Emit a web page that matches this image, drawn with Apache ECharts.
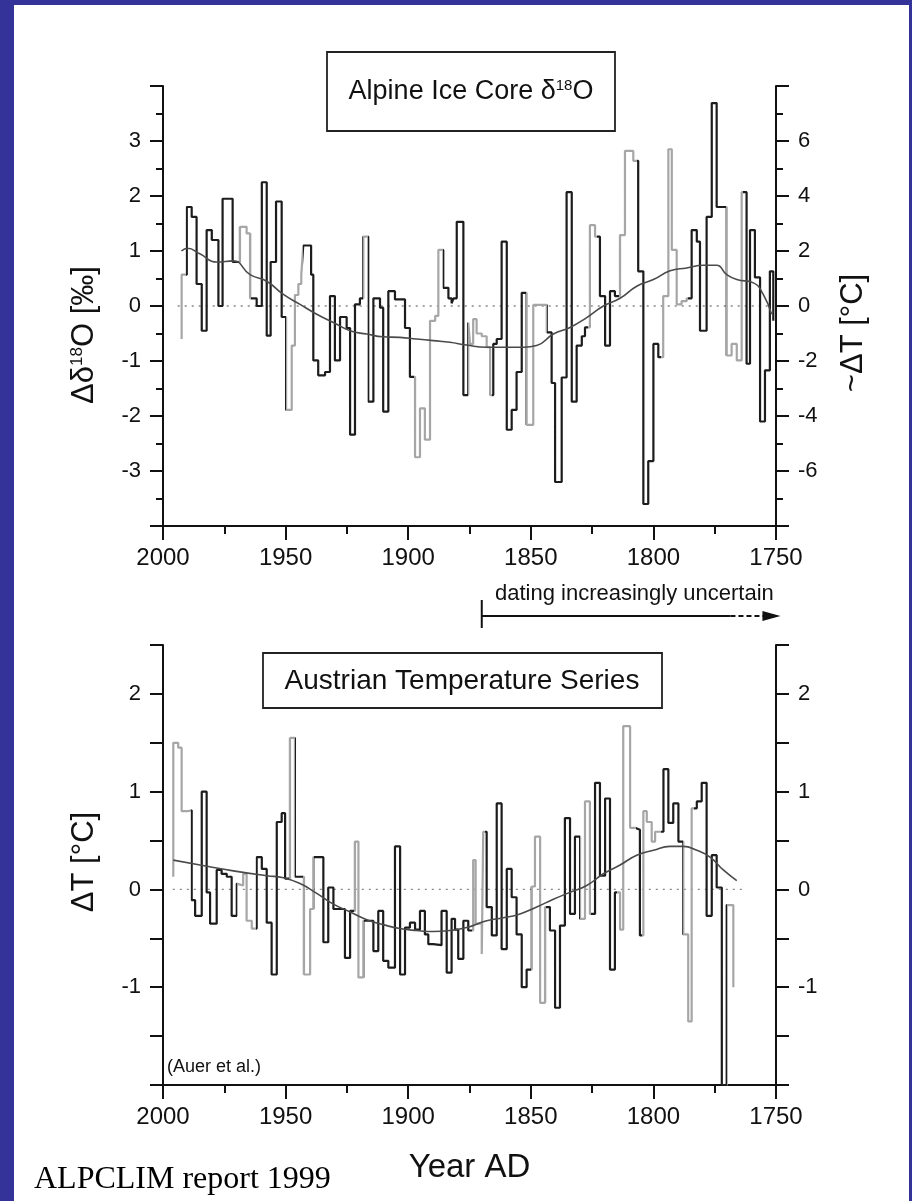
<!DOCTYPE html>
<html><head><meta charset="utf-8">
<script src="https://cdn.jsdelivr.net/npm/echarts@6/dist/echarts.min.js"></script>
<style>
html,body{margin:0;padding:0;background:#333399;width:912px;height:1201px;overflow:hidden;}
#paper{position:absolute;left:14px;top:5px;width:895px;height:1196px;background:#fff;}
#chart{position:absolute;left:0;top:0;width:912px;height:1201px;}
</style></head><body>
<div id="paper"></div><div id="chart"></div>
<script>
// ---------- Alpine ice core d18O (step series, years descending) ----------
const iceYears = [1992.4,1992.4,1990.3,1988.3,1986.3,1984.2,1982.2,1980.1,1977.4,1975.7,1971.6,1968.6,1965.9,1964.5,1961.8,1959.7,1957.7,1956.1,1953.9,1951.6,1949.8,1947.5,1946.2,1944.8,1943.6,1942.8,1939.6,1938.7,1936.7,1933.9,1931.9,1929.9,1927.8,1925.1,1923.7,1921.7,1919.7,1918.3,1916.3,1914.2,1911.5,1910.2,1908.1,1905.4,1901.3,1899.3,1897.2,1895.2,1893.2,1891.1,1889.0,1887.7,1885.7,1883.6,1882.3,1881.5,1880.2,1877.5,1875.5,1874.8,1873.5,1872.1,1870.0,1868.0,1866.6,1865.3,1863.9,1861.9,1859.8,1857.8,1855.8,1853.7,1851.7,1849.0,1843.5,1841.5,1840.1,1837.4,1835.4,1833.3,1831.3,1829.2,1827.9,1825.9,1823.8,1821.8,1819.7,1817.7,1815.7,1813.6,1811.6,1808.2,1806.2,1804.1,1802.1,1800.0,1798.0,1796.0,1793.9,1792.5,1790.5,1788.5,1786.4,1784.4,1782.3,1781.0,1778.3,1776.2,1774.2,1770.1,1768.1,1766.0,1764.0,1762.0,1760.6,1758.6,1756.5,1754.5,1752.5,1751.1];
const iceVals  = [-0.6,0.57,1.8,1.62,0.4,-0.45,1.38,1.2,0.0,1.95,0.8,1.44,1.32,0.14,0.0,2.25,-0.54,0.8,1.9,-0.2,-1.89,-0.72,0.2,0.4,0.57,1.1,0.57,-0.99,-1.26,-1.2,0.18,-0.99,-0.2,-0.4,-2.34,0.03,0.14,1.26,-1.74,0.14,-0.03,-1.92,0.27,0.12,-0.4,-1.29,-2.75,-1.86,-2.43,-0.27,-0.18,1.02,0.33,0.14,0.05,0.14,1.53,-1.62,-0.3,-0.69,-0.24,-0.5,-0.55,-0.75,-1.62,-0.69,-0.6,1.17,-2.25,-1.89,-1.2,0.24,-2.16,0.02,-0.48,-1.4,-3.2,-1.3,2.07,-1.74,-0.72,-0.55,-0.39,1.47,1.26,0.18,-0.72,0.27,0.18,1.29,2.82,2.64,0.63,-3.6,-2.82,-0.69,-0.93,0.18,2.85,1.02,0.03,0.09,0.14,1.38,1.17,-0.45,1.62,3.69,1.8,-0.9,-0.69,-0.99,2.07,-1.05,1.38,0.52,-2.1,-1.17,0.63,-0.27];
const iceSmoothYears = [1992.5,1990,1985,1978.1,1971.3,1964.5,1957.7,1950.9,1944.1,1937.3,1930.5,1923.7,1916.9,1910.2,1903.4,1896.6,1889.8,1883,1876.2,1868,1861.2,1853,1847.6,1840.8,1834,1827.2,1820.4,1813.6,1806.8,1800,1793.2,1786.4,1779.6,1774.2,1770.1,1766,1759.2,1755.2,1751.8];
const iceSmoothVals  = [1.0,1.05,0.95,0.8,0.82,0.57,0.45,0.21,0.03,-0.15,-0.3,-0.45,-0.51,-0.56,-0.57,-0.6,-0.63,-0.66,-0.71,-0.75,-0.75,-0.75,-0.72,-0.51,-0.39,-0.21,0.0,0.14,0.36,0.48,0.64,0.69,0.74,0.74,0.57,0.48,0.42,0.21,-0.15];
const iceGreyRanges = [[1993.5,1990.5],[1969,1964],[1950,1943],[1918.5,1916.5],[1897.5,1886],[1875.5,1866],[1852,1843.5],[1826.5,1823],[1814,1806.5],[1797,1786],[1770.5,1763.5]];
const iceZeroYears = [1994,1751];

// ---------- Austrian temperature series ----------
const ausYears = [1995.8,1995.8,1993.8,1992.4,1990.3,1988.3,1986.9,1984.2,1982.2,1980.8,1978.1,1976.1,1974.0,1972.0,1969.9,1969.3,1967.3,1965.9,1963.8,1961.8,1959.7,1957.7,1955.7,1953.6,1951.6,1950.2,1948.2,1946.2,1942.5,1940.0,1938.7,1934.6,1932.6,1930.5,1925.8,1923.7,1921.7,1920.3,1918.3,1914.2,1912.2,1910.2,1908.1,1905.4,1903.3,1901.3,1899.3,1897.2,1895.2,1893.2,1891.8,1889.8,1886.4,1884.3,1882.3,1880.9,1879.6,1877.5,1875.5,1873.5,1872.5,1870.0,1869.4,1868.0,1865.9,1863.9,1861.9,1859.8,1857.8,1855.8,1853.7,1851.7,1849.6,1848.3,1846.2,1844.2,1842.2,1840.1,1838.1,1836.1,1834.0,1832.0,1829.9,1827.9,1825.9,1823.8,1821.8,1819.7,1817.7,1815.7,1813.6,1812.3,1809.5,1807.5,1805.5,1804.1,1802.7,1800.7,1799.3,1795.9,1793.9,1791.9,1789.8,1787.8,1785.8,1784.4,1782.3,1780.3,1778.3,1776.2,1774.2,1772.1,1770.1,1767.4];
const ausVals  = [0.13,1.5,1.45,0.8,0.81,-0.11,-0.27,1.0,-0.03,-0.35,0.2,0.16,0.13,-0.27,0.06,0.04,0.16,-0.32,-0.4,0.33,0.21,-0.34,-0.87,0.69,0.78,0.11,1.55,0.13,-0.87,-0.2,0.33,-0.54,0.02,-0.2,-0.7,-0.22,0.49,-0.9,-0.32,-0.63,-0.22,-0.73,-0.8,0.44,-0.87,-0.39,-0.34,-0.41,-0.22,-0.46,-0.56,-0.57,-0.22,-0.85,-0.3,-0.41,-0.71,-0.32,-0.42,0.3,-0.35,-0.66,0.59,-0.18,-0.47,0.88,-0.61,0.21,-0.08,-0.46,-1.0,-0.82,0.03,0.54,-1.16,-0.18,-0.42,-1.21,-0.37,0.73,-0.25,0.54,-0.3,0.9,-0.25,1.09,0.14,0.93,-0.82,-0.03,-0.41,1.67,0.63,0.61,-0.47,0.8,0.69,0.49,0.59,1.23,0.68,0.88,0.49,-0.46,-1.35,0.83,0.9,1.09,-0.27,0.35,0.02,-2.0,-0.16,-1.0];
const ausSmoothYears = [1995.8,1984.9,1971.3,1957.7,1950.9,1944.1,1937.3,1930.5,1923.7,1916.9,1910.2,1903.4,1896.6,1889.8,1883,1876.2,1868,1861.2,1854.4,1847.6,1840.8,1834,1827.2,1820.4,1813.6,1806.8,1800,1793.2,1787.8,1782.3,1776.9,1771.5,1766];
const ausSmoothVals  = [0.3,0.25,0.19,0.14,0.12,0.06,-0.04,-0.15,-0.23,-0.31,-0.36,-0.4,-0.42,-0.43,-0.42,-0.39,-0.32,-0.29,-0.25,-0.18,-0.1,-0.03,0.04,0.16,0.25,0.35,0.4,0.44,0.44,0.4,0.33,0.2,0.09];
const ausGreyRanges = [[1996.5,1988.5],[1970,1962],[1948.5,1946],[1943,1938.5],[1922,1918],[1874,1868.5],[1850,1844],[1830,1825.5],[1815,1807],[1804.5,1797],[1788,1783.5],[1769.8,1766]];
const ausZeroYears = [1996,1762];

// ---------- axis tick labels ----------
const xTickLabels = [2000,1950,1900,1850,1800,1750];
const iceLeftLabels = [-3,-2,-1,0,1,2,3];
const iceRightLabels = [-6,-4,-2,0,2,4,6];
const ausLabels = [-1,0,1,2];
const datingArrowYears = [1870,1749];

const FONT = 'Liberation Sans';
const INK = '#111';
const zip = (a,b) => a.map((v,i)=>[v,b[i]]);

function xAxisCfg(gi, name){
  return {
    type:'value', gridIndex:gi, min:1750, max:2000, interval:50, inverse:true,
    name: name || '', nameLocation:'middle', nameGap:66,
    nameTextStyle:{fontSize:33, color:INK, fontFamily:FONT},
    axisLine:{show:true, onZero:false, lineStyle:{color:INK, width:2}},
    axisTick:{show:true, length:14, lineStyle:{color:INK, width:2}},
    minorTick:{show:true, splitNumber:2, length:8, lineStyle:{color:INK, width:2}},
    splitLine:{show:false}, minorSplitLine:{show:false},
    axisLabel:{fontSize:24, color:INK, fontFamily:FONT, margin:20,
      formatter: v => xTickLabels.includes(v) ? String(v) : ''}
  };
}
function yAxisCfg(gi, pos, min, max, interval, labels, minor){
  return {
    type:'value', gridIndex:gi, position:pos, min, max, interval,
    axisLine:{show:true, onZero:false, lineStyle:{color:INK, width:2}},
    axisTick:{show:true, length:13, lineStyle:{color:INK, width:2}},
    minorTick:{show:minor, splitNumber:2, length:7, lineStyle:{color:INK, width:2}},
    splitLine:{show:false}, minorSplitLine:{show:false},
    axisLabel:{fontSize:22, color:INK, fontFamily:FONT, margin:22,
      formatter: v => labels.includes(Math.round(v*100)/100) ? String(v) : ''}
  };
}
function greyPieces(ranges){
  return ranges.map(r => ({gte:r[1], lte:r[0], color:'#a6a6a6'}));
}

const chart = echarts.init(document.getElementById('chart'), null, {renderer:'canvas'});
const option = {
  backgroundColor:'transparent',
  animation:false,
  textStyle:{fontFamily:FONT},
  grid:[
    {left:163, right:136, top:86, height:440},
    {left:163, right:136, top:645, height:440}
  ],
  xAxis:[xAxisCfg(0), xAxisCfg(1,'Year AD')],
  yAxis:[
    yAxisCfg(0,'left',-4,4,1,iceLeftLabels,true),
    yAxisCfg(0,'right',-8,8,2,iceRightLabels,true),
    yAxisCfg(1,'left',-2,2.5,0.5,ausLabels,false),
    yAxisCfg(1,'right',-2,2.5,0.5,ausLabels,false)
  ],
  visualMap:[
    {type:'piecewise', show:false, dimension:0, seriesIndex:0, pieces:greyPieces(iceGreyRanges), outOfRange:{color:'#1c1c1c'}},
    {type:'piecewise', show:false, dimension:0, seriesIndex:3, pieces:greyPieces(ausGreyRanges), outOfRange:{color:'#1c1c1c'}}
  ],
  series:[
    {type:'line', xAxisIndex:0, yAxisIndex:0, step:'end', showSymbol:false, symbol:'none',
     data:zip(iceYears,iceVals), lineStyle:{width:2.2}, z:3},
    {type:'line', xAxisIndex:0, yAxisIndex:0, smooth:true, showSymbol:false, symbol:'none',
     data:zip(iceSmoothYears,iceSmoothVals), lineStyle:{width:1.6, color:'#4a4a4a'}, itemStyle:{color:'#4a4a4a'}, z:4},
    {type:'line', xAxisIndex:0, yAxisIndex:0, showSymbol:false, symbol:'none', silent:true,
     data:iceZeroYears.map(y=>[y,0]), lineStyle:{width:1.3, color:'#888', type:[2,5]}, itemStyle:{color:'#888'}, z:2},
    {type:'line', xAxisIndex:1, yAxisIndex:2, step:'end', showSymbol:false, symbol:'none',
     data:zip(ausYears,ausVals), lineStyle:{width:2.2}, z:3},
    {type:'line', xAxisIndex:1, yAxisIndex:2, smooth:true, showSymbol:false, symbol:'none',
     data:zip(ausSmoothYears,ausSmoothVals), lineStyle:{width:1.6, color:'#4a4a4a'}, itemStyle:{color:'#4a4a4a'}, z:4},
    {type:'line', xAxisIndex:1, yAxisIndex:2, showSymbol:false, symbol:'none', silent:true,
     data:ausZeroYears.map(y=>[y,0]), lineStyle:{width:1.3, color:'#888', type:[2,5]}, itemStyle:{color:'#888'}, z:2}
  ]
};
chart.setOption(option);

// annotations
const ax0 = chart.convertToPixel({xAxisIndex:0}, datingArrowYears[0]);
const ax1 = chart.convertToPixel({xAxisIndex:0}, datingArrowYears[1]);
const arrowY = 616;
const supRich = (big, small) => ({
  a:{fontSize:big, fontFamily:FONT, fill:INK, color:INK, verticalAlign:'bottom', lineHeight:big},
  s:{fontSize:small, fontFamily:FONT, fill:INK, color:INK, verticalAlign:'top', lineHeight:big}
});
chart.setOption({
  graphic:[
    {type:'rect', shape:{x:327, y:52, width:288, height:79}, style:{fill:'#fff', stroke:'#222', lineWidth:1.8}, z:10},
    {type:'text', x:471, y:92, z:11, style:{text:'{a|Alpine Ice Core δ}{s|18}{a|O}', align:'center', verticalAlign:'middle', rich:supRich(27,15)}},
    {type:'rect', shape:{x:263, y:653, width:399, height:55}, style:{fill:'#fff', stroke:'#222', lineWidth:1.8}, z:10},
    {type:'text', x:462, y:681, z:11, style:{text:'Austrian Temperature Series', align:'center', verticalAlign:'middle', fontSize:28, fontFamily:FONT, fill:INK}},
    {type:'text', x:84, y:335, rotation:Math.PI/2, z:11, style:{text:'{a|Δδ}{s|18}{a|O [‰]}', align:'center', verticalAlign:'middle', rich:supRich(31,17)}},
    {type:'text', x:853, y:333, rotation:Math.PI/2, z:11, style:{text:'~ΔT [°C]', align:'center', verticalAlign:'middle', fontSize:31, fontFamily:FONT, fill:INK}},
    {type:'text', x:84, y:862, rotation:Math.PI/2, z:11, style:{text:'ΔT [°C]', align:'center', verticalAlign:'middle', fontSize:31, fontFamily:FONT, fill:INK}},
    {type:'text', x:495, y:594, z:11, style:{text:'dating increasingly uncertain', align:'left', verticalAlign:'middle', fontSize:22, fontFamily:FONT, fill:INK}},
    {type:'line', shape:{x1:ax0, y1:600, x2:ax0, y2:628}, style:{stroke:INK, lineWidth:2}, z:11},
    {type:'line', shape:{x1:ax0, y1:arrowY, x2:ax1-48, y2:arrowY}, style:{stroke:INK, lineWidth:2}, z:11},
    {type:'line', shape:{x1:ax1-48, y1:arrowY, x2:ax1-14, y2:arrowY}, style:{stroke:INK, lineWidth:2, lineDash:[5,3]}, z:11},
    {type:'polygon', shape:{points:[[ax1-16,arrowY-5],[ax1+2,arrowY],[ax1-16,arrowY+5]]}, style:{fill:INK}, z:11},
    {type:'text', x:167, y:1067, z:11, style:{text:'(Auer et al.)', align:'left', verticalAlign:'middle', fontSize:18, fontFamily:FONT, fill:INK}},
    {type:'text', x:34, y:1180, z:11, style:{text:'ALPCLIM report 1999', align:'left', verticalAlign:'middle', fontSize:32, fontFamily:'Liberation Serif', fill:'#000'}}
  ]
});
</script>
</body></html>
